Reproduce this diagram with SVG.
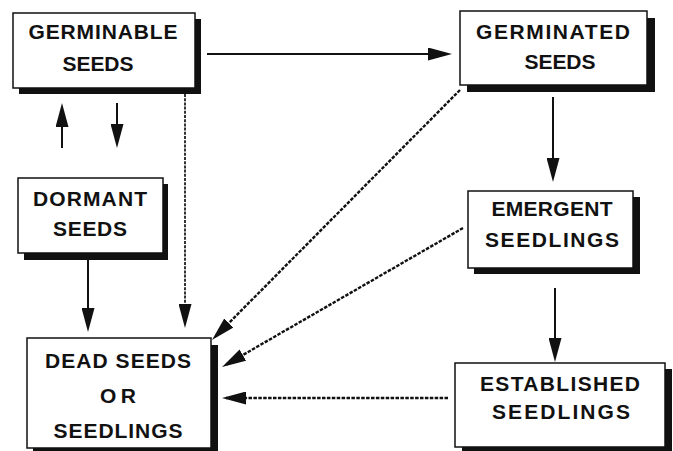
<svg xmlns="http://www.w3.org/2000/svg" width="673" height="451" viewBox="0 0 673 451">
<style>
  .box { fill: #fff; stroke: #111; stroke-width: 1.5; }
  .shadow { fill: #111; }
  .lbl { font-family: "Liberation Sans", Arial, Helvetica, sans-serif; font-weight: bold; font-size: 21px; fill: #111; text-anchor: middle; }
  .solid { stroke: #111; stroke-width: 2; fill: none; marker-end: url(#ah); }
  .dash { stroke: #111; stroke-width: 2.4; stroke-dasharray: 3.5 1.4; fill: none; marker-end: url(#ah); }
  .dot { stroke: #111; stroke-width: 1.7; stroke-dasharray: 3 1.2; fill: none; marker-end: url(#ah); }
</style>
<defs>
  <marker id="ah" markerUnits="userSpaceOnUse" markerWidth="24" markerHeight="13" refX="20" refY="6.5" orient="auto" viewBox="0 0 24 13">
    <path d="M0,0 L24,6.5 L0,13 Z" fill="#111"/>
  </marker>
</defs>
<rect width="673" height="451" fill="#fff"/>

<g id="germinable">
  <rect class="shadow" x="19" y="19" width="182" height="75"/>
  <rect class="box" x="13" y="13" width="182" height="75"/>
  <text class="lbl" x="103" y="38.5" textLength="149">GERMINABLE</text>
  <text class="lbl" x="98" y="70.5" textLength="71">SEEDS</text>
</g>

<g id="germinated">
  <rect class="shadow" x="467" y="18" width="188" height="74"/>
  <rect class="box" x="460" y="11" width="187" height="74"/>
  <text class="lbl" x="553" y="38.5" textLength="154">GERMINATED</text>
  <text class="lbl" x="560" y="68.5" textLength="71">SEEDS</text>
</g>

<g id="dormant">
  <rect class="shadow" x="24" y="184" width="144" height="76"/>
  <rect class="box" x="18" y="178" width="145" height="75"/>
  <text class="lbl" x="90" y="205.5" textLength="114">DORMANT</text>
  <text class="lbl" x="90" y="235.5" textLength="74">SEEDS</text>
</g>

<g id="dead">
  <rect class="shadow" x="33" y="345" width="185" height="110"/>
  <rect class="box" x="27" y="338" width="184" height="110"/>
  <text class="lbl" x="118" y="367.5" textLength="146">DEAD SEEDS</text>
  <text class="lbl" x="118" y="402.5" textLength="36">OR</text>
  <text class="lbl" x="118" y="437.5" textLength="129">SEEDLINGS</text>
</g>

<g id="emergent">
  <rect class="shadow" x="474" y="197" width="166" height="77"/>
  <rect class="box" x="468" y="191" width="165" height="77"/>
  <text class="lbl" x="552" y="215.5" textLength="121">EMERGENT</text>
  <text class="lbl" x="552" y="246.5" textLength="134">SEEDLINGS</text>
</g>

<g id="established">
  <rect class="shadow" x="462" y="369" width="210" height="84"/>
  <rect class="box" x="455" y="363" width="210" height="84"/>
  <text class="lbl" x="560" y="390.5" textLength="160">ESTABLISHED</text>
  <text class="lbl" x="561" y="418.5" textLength="138">SEEDLINGS</text>
</g>

<g id="connectors">
  <line class="solid" x1="207" y1="54" x2="448" y2="54"/>
  <line class="solid" x1="62" y1="148" x2="62" y2="107"/>
  <line class="solid" x1="117" y1="103" x2="117" y2="144"/>
  <line class="dot" x1="185" y1="94" x2="185" y2="324"/>
  <line class="solid" x1="88" y1="260" x2="88" y2="328"/>
  <line class="dash" x1="460" y1="90" x2="214.8" y2="337.2"/>
  <line class="dash" x1="463" y1="228" x2="225.5" y2="365"/>
  <line class="dash" x1="448" y1="398" x2="226" y2="398"/>
  <line class="solid" x1="553" y1="97" x2="553" y2="178"/>
  <line class="solid" x1="555" y1="288" x2="555" y2="358"/>
</g>
</svg>
